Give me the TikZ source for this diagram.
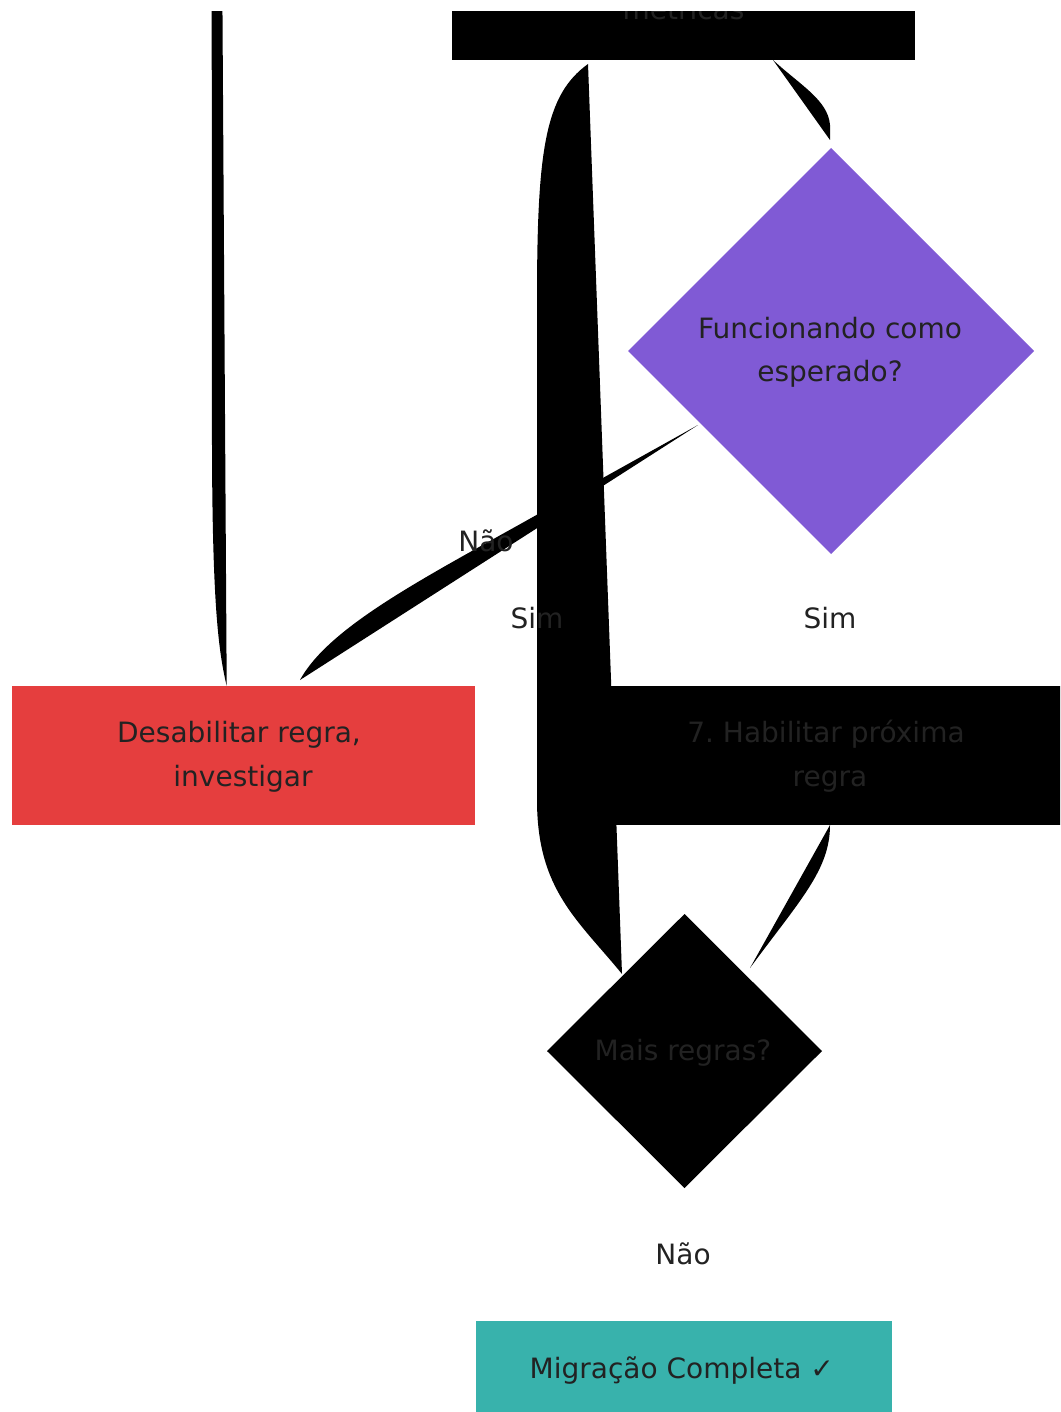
\documentclass[tikz,border=0pt]{standalone}
\usepackage{fontspec}
\setmainfont{DejaVu Sans}
\usetikzlibrary{shapes.geometric}
\definecolor{ink}{HTML}{222222}
\definecolor{purpc}{HTML}{805AD5}
\definecolor{redc}{HTML}{E53E3E}
\definecolor{tealc}{HTML}{38B2AC}
\tikzset{
  boxnode/.style={rectangle, draw=none, inner sep=0pt, outer sep=0pt, minimum width=463pt, minimum height=139pt},
  dianode/.style={diamond, aspect=1, draw=none, inner sep=0pt, outer sep=0pt},
  txt/.style={font=\fontsize{28}{43}\selectfont\frenchspacing, text=ink, inner sep=0pt, outer sep=0pt, anchor=base},
  conn/.style={fill=black, draw=none}
}
\begin{document}
\begin{tikzpicture}[x=1pt,y=-1pt]
\useasboundingbox (0,0) rectangle (1060,1412);
\begin{scope}
\clip (0,12) rectangle (1060,1412);
% ---------- connectors (filled curves) ----------
% left line into red box
\fill[conn] (211.7,0) -- (212,450) .. controls (212.5,600) and (218,650) .. (226.7,686) -- (222.4,0) -- cycle;
% big loop from top box to "Mais regras?"
\fill[conn] (588,64) .. controls (545,95) and (537,150) .. (537,300) -- (537,800)
  .. controls (537,890) and (578,920) .. (622,974) -- cycle;
% top box to purple diamond
\fill[conn] (773,60) .. controls (800,85) and (828,100) .. (830,125) -- (830,140) -- cycle;
% purple diamond to red box (Nao)
\fill[conn] (698,425) -- (540,513) .. controls (430,575) and (330,625) .. (300,680) -- cycle;
% Habilitar box to "Mais regras?"
\fill[conn] (830,825) .. controls (830,870) and (800,900) .. (750,968) -- cycle;
% ---------- nodes ----------
\node[boxnode, fill=black] (mon) at (683.5,-9.5) {};
\node[dianode, fill=purpc, minimum width=406pt, minimum height=406pt] (fun) at (831,351) {};
\node[boxnode, fill=redc] (dis) at (243.5,755.5) {};
\node[boxnode, fill=black] (hab) at (830,755.5) {};
\node[dianode, fill=black, minimum width=275pt, minimum height=274pt] (mais) at (684.5,1051) {};
\node[rectangle, draw=none, fill=tealc, inner sep=0pt, minimum width=416pt, minimum height=96pt] (mig) at (684,1369) {};
% ---------- node texts ----------
\node[txt] (monT) at (683.5,20) {métricas};
\node[txt] (funT1) at (830,338) {Funcionando como};
\node[txt] (funT2) at (830,381) {esperado?};
\node[txt] (disT1) at (239,742.7) {Desabilitar regra,};
\node[txt] (disT2) at (243,786) {investigar};
\node[txt] (habT1) at (826,742.7) {7. Habilitar próxima};
\node[txt] (habT2) at (830,786) {regra};
\node[txt] (maisT) at (683,1060) {Mais regras?};
\node[txt] (migT) at (681.7,1378.3) {Migração Completa ✓};
% ---------- edge labels ----------
\node[txt] (l1) at (486,551.7) {Não};
\node[txt] (l2) at (537,628) {Sim};
\node[txt] (l3) at (830,628) {Sim};
\node[txt] (l4) at (683,1264) {Não};
\end{scope}
\end{tikzpicture}
\end{document}
